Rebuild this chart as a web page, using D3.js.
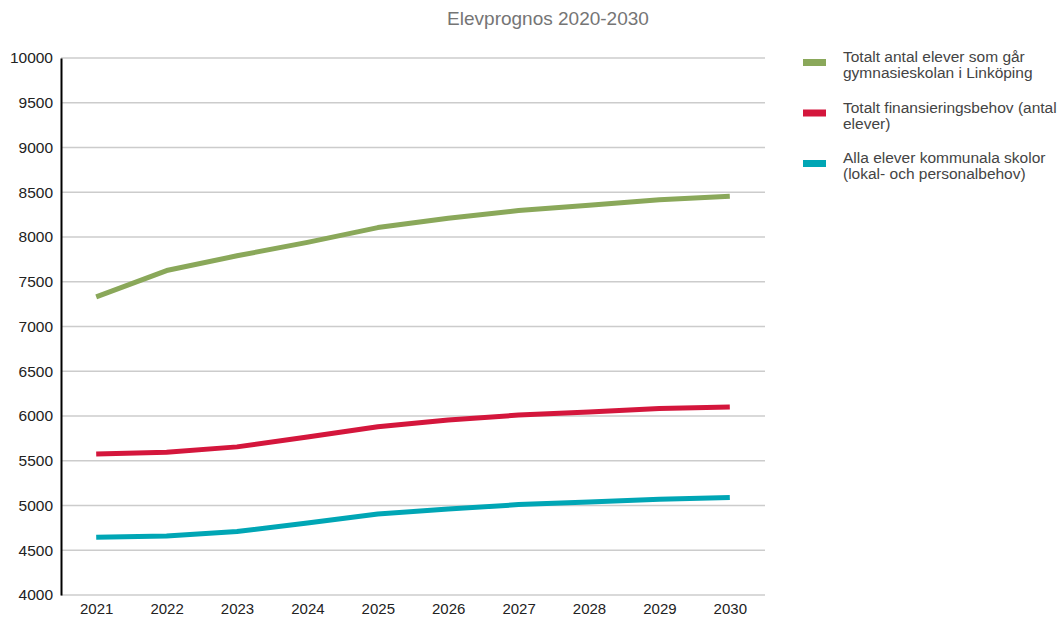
<!DOCTYPE html>
<html>
<head>
<meta charset="utf-8">
<script src="https://cdn.jsdelivr.net/npm/d3@7"></script>
<style>
  body { margin: 0; background: #fff; font-family: "Liberation Sans", Arial, sans-serif; }
</style>
</head>
<body>
<div id="chart"></div>
<script>
// years on the x axis
const years = ["2021", "2022", "2023", "2024", "2025", "2026", "2027", "2028", "2029", "2030"];

// series values
const totaltAntal = [7330, 7625, 7790, 7940, 8105, 8210, 8295, 8355, 8415, 8455];
const finansiering = [5575, 5595, 5655, 5765, 5880, 5955, 6010, 6045, 6085, 6100];
const kommunala = [4645, 4660, 4710, 4805, 4905, 4960, 5010, 5040, 5070, 5090];

const yTicks = [4000, 4500, 5000, 5500, 6000, 6500, 7000, 7500, 8000, 8500, 9000, 9500, 10000];

const seriesNames = [
  ["Totalt antal elever som går", "gymnasieskolan i Linköping"],
  ["Totalt finansieringsbehov (antal", "elever)"],
  ["Alla elever kommunala skolor", "(lokal- och personalbehov)"]
];
const seriesColors = ["#8aa85a", "#d4163c", "#00a6b5"];
const seriesValues = [totaltAntal, finansiering, kommunala];

const width = 1059, height = 618;
const margin = { top: 58, right: 294, bottom: 23, left: 61 };

const svg = d3.select("#chart")
  .append("svg")
  .attr("width", width)
  .attr("height", height);

const x = d3.scalePoint()
  .domain(years)
  .range([margin.left, width - margin.right])
  .padding(0.5);

const y = d3.scaleLinear()
  .domain([4000, 10000])
  .range([height - margin.bottom, margin.top]);

// gridlines
svg.append("g")
  .selectAll("line")
  .data(yTicks)
  .enter()
  .append("line")
  .attr("x1", margin.left)
  .attr("x2", width - margin.right)
  .attr("y1", d => y(d))
  .attr("y2", d => y(d))
  .attr("stroke", "#cccccc")
  .attr("stroke-width", 1.5);

// y axis
const yAxis = d3.axisLeft(y).tickValues(yTicks).tickFormat(d3.format("d")).tickSize(0).tickPadding(8);
const yAxisGroup = svg.append("g")
  .attr("transform", `translate(${margin.left}, 0)`)
  .call(yAxis);
yAxisGroup.select(".domain").attr("stroke", "#000").attr("stroke-width", 2);
yAxisGroup.selectAll("text")
  .attr("font-size", 15.5)
  .attr("font-family", "Liberation Sans, Arial, sans-serif")
  .attr("fill", "#222");

// x axis
const xAxis = d3.axisBottom(x).tickSize(0).tickPadding(8);
const xAxisGroup = svg.append("g")
  .attr("transform", `translate(0, ${height - margin.bottom})`)
  .call(xAxis);
xAxisGroup.select(".domain").remove();
xAxisGroup.selectAll("text")
  .attr("font-size", 15)
  .attr("font-family", "Liberation Sans, Arial, sans-serif")
  .attr("fill", "#222");

// lines
const line = d3.line()
  .x((d, i) => x(years[i]))
  .y(d => y(d));

svg.append("g")
  .selectAll("path")
  .data(seriesValues)
  .enter()
  .append("path")
  .attr("d", d => line(d))
  .attr("fill", "none")
  .attr("stroke", (d, i) => seriesColors[i])
  .attr("stroke-width", 5)
  .attr("stroke-linejoin", "round");

// title
svg.append("text")
  .attr("x", 548)
  .attr("y", 25)
  .attr("text-anchor", "middle")
  .attr("font-size", 19)
  .attr("fill", "#757575")
  .text("Elevprognos 2020-2030");

// legend
const legend = svg.append("g")
  .selectAll("g")
  .data(seriesNames)
  .enter()
  .append("g")
  .attr("transform", (d, i) => `translate(803, ${62 + i * 50.5})`);

legend.append("rect")
  .attr("x", 0)
  .attr("y", -3)
  .attr("width", 23)
  .attr("height", 7)
  .attr("fill", (d, i) => seriesColors[i]);

legend.append("text")
  .attr("x", 40)
  .attr("y", 0)
  .attr("font-size", 15.5)
  .attr("fill", "#444")
  .selectAll("tspan")
  .data(d => d)
  .enter()
  .append("tspan")
  .attr("x", 40)
  .attr("dy", (d, i) => i === 0 ? 0 : 16)
  .text(d => d);
</script>
</body>
</html>
